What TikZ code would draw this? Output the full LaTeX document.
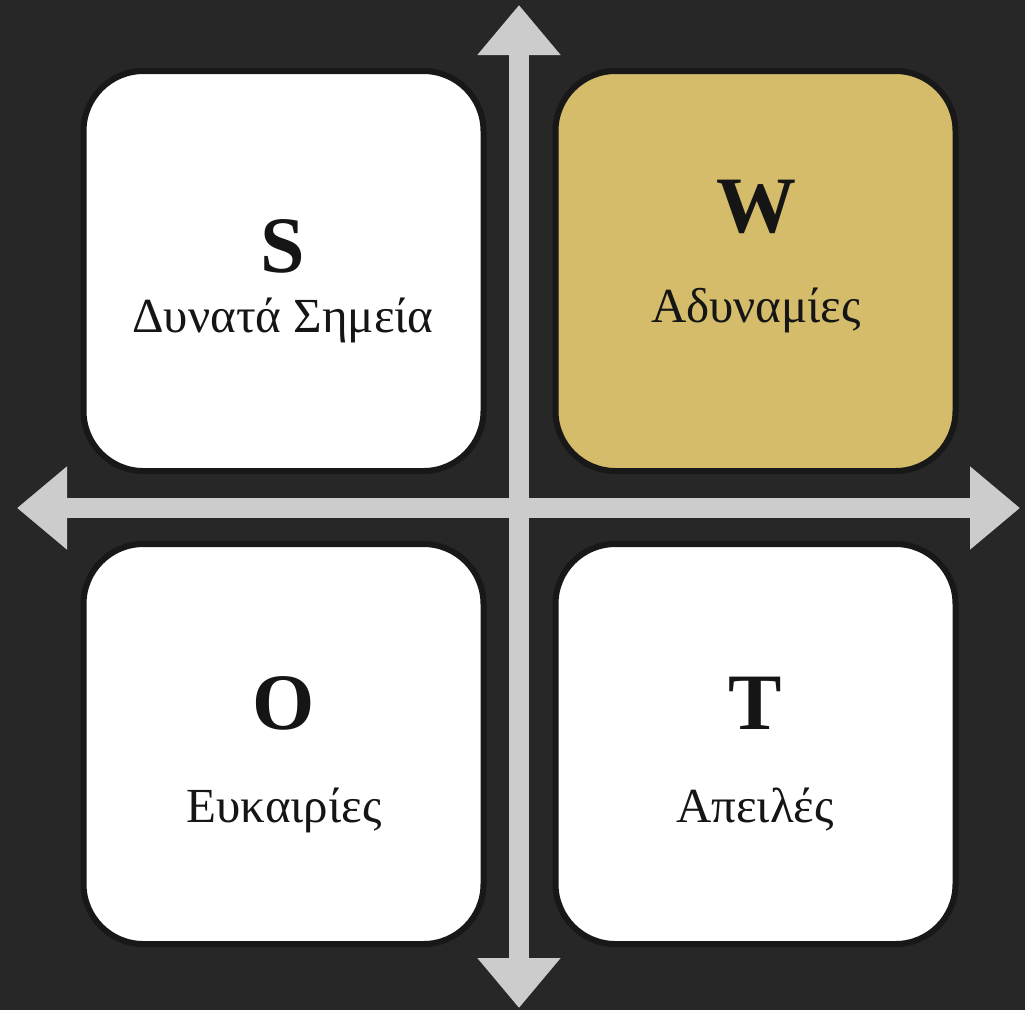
\documentclass[tikz,border=0pt]{standalone}
\usepackage{fontspec}
\setmainfont{Liberation Serif}
\usetikzlibrary{arrows.meta}

\definecolor{bg}{HTML}{272727}
\definecolor{rim}{HTML}{181818}
\definecolor{axis}{HTML}{CCCCCC}
\definecolor{gold}{HTML}{D4BC6A}
\definecolor{ink}{HTML}{151515}

\tikzset{
  quad/.style={draw=rim, line width=6pt, fill=white, rounded corners=60pt,
    minimum width=400pt, minimum height=400pt, inner sep=0pt},
  letter/.style={anchor=base, text=ink, font=\fontsize{80}{82}\selectfont\bfseries},
  word/.style={anchor=base, text=ink, font=\fontsize{49}{51}\selectfont},
  axisarrow/.style={draw=axis, line width=20pt,
    {Triangle[width=80pt,length=50pt]}-{Triangle[width=80pt,length=50pt]}}
}

\begin{document}
\begin{tikzpicture}[x=1pt,y=-1pt]
\fill[bg] (0,0) rectangle (1025,1010);
\useasboundingbox (0,0) rectangle (1025,1010);

% the four quadrants
\node[quad] (s) at (283.5,271) {};
\node[quad,fill=gold] (w) at (755.5,271) {};
\node[quad] (o) at (283.5,744) {};
\node[quad] (t) at (755.5,744) {};

\node[letter] (sl) at (283,272) {S};
\node[word] (sw) at (283,332) {Δυνατά Σημεία};
\node[letter] (wl) at (756,232) {W};
\node[word] (ww) at (756,322) {Αδυναμίες};
\node[letter] (ol) at (284,729) {O};
\node[word] (ow) at (284,822) {Ευκαιρίες};
\node[letter] (tl) at (755,729) {T};
\node[word] (tw) at (755,822) {Απειλές};

% axes
\path (519,5) coordinate (top) (519,1008) coordinate (bottom)
      (17,508) coordinate (left) (1020,508) coordinate (right);
\draw[axisarrow] (bottom) -- (top);
\draw[axisarrow] (left) -- (right);
\end{tikzpicture}
\end{document}
